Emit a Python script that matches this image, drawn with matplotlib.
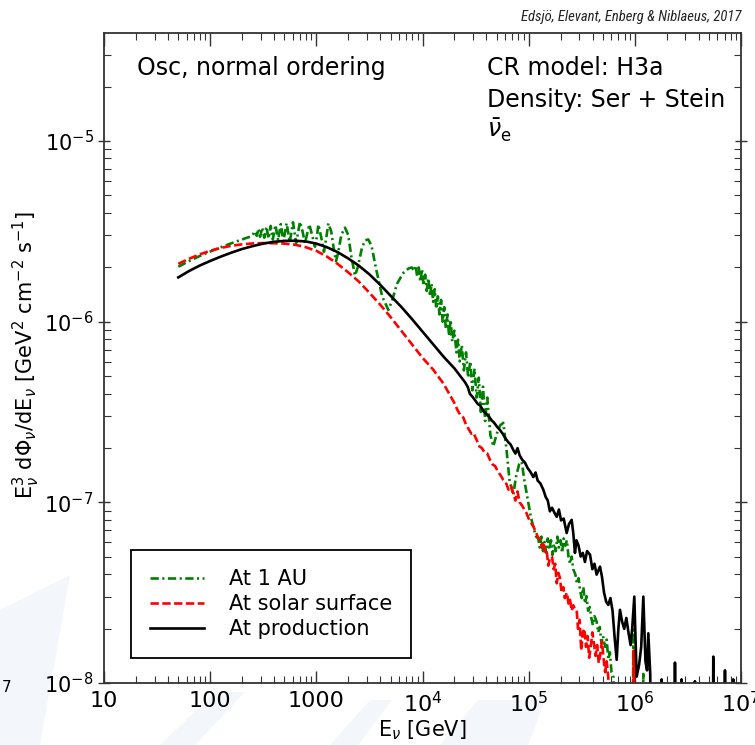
import numpy as np
import matplotlib
matplotlib.use("Agg")
import matplotlib.pyplot as plt
from matplotlib import font_manager
from matplotlib.ticker import FixedLocator, LogLocator, NullFormatter
from matplotlib.patches import Polygon

# ---------------------------------------------------------------------------
# Spectra: log10(E / GeV) and log10(E^3 dPhi/dE / [GeV^2 cm^-2 s^-1]).
# A value of -9 marks an empty bin (below the plotted range).
# ---------------------------------------------------------------------------

# At production (no oscillation / absorption effects)
logE_prod = [1.70, 1.80, 1.90, 2.00, 2.10, 2.20, 2.30, 2.40, 2.50, 2.60,
             2.70, 2.80, 2.90, 3.00, 3.10, 3.20, 3.30, 3.40, 3.50, 3.60,
             3.70, 3.80, 3.90, 4.00, 4.10, 4.20, 4.30, 4.40, 4.425, 4.447,
             4.47, 4.495, 4.52, 4.545, 4.573, 4.60, 4.625, 4.65, 4.675, 4.70,
             4.73, 4.755, 4.78, 4.805, 4.83, 4.855, 4.875, 4.895, 4.915, 4.94,
             4.965, 4.99, 5.015, 5.044, 5.065, 5.085, 5.11, 5.138, 5.16, 5.18,
             5.20, 5.22, 5.245, 5.264, 5.285, 5.305, 5.33, 5.358, 5.38, 5.405,
             5.42, 5.436, 5.45, 5.47, 5.49, 5.51, 5.53, 5.55, 5.578, 5.60,
             5.62, 5.64, 5.672, 5.69, 5.71, 5.73, 5.75, 5.77, 5.79, 5.81,
             5.829, 5.845, 5.86, 5.88, 5.90, 5.92, 5.94, 5.96, 5.975, 5.995,
             6.017, 6.04, 6.06, 6.08, 6.10, 6.115, 6.127, 6.145, 6.158, 6.24,
             6.253, 6.265, 6.37, 6.378, 6.39, 6.43, 6.44, 6.45, 6.555, 6.566,
             6.577, 6.73, 6.739, 6.75, 6.84, 6.849, 6.86, 6.92, 6.927, 6.935,
             7.0]
logflux_prod = [-5.755, -5.720, -5.690, -5.664, -5.640, -5.618, -5.598, -5.582, -5.568, -5.558,
                -5.553, -5.552, -5.556, -5.568, -5.588, -5.615, -5.650, -5.690, -5.738, -5.795,
                -5.857, -5.918, -5.985, -6.055, -6.125, -6.195, -6.258, -6.335, -6.36, -6.40,
                -6.415, -6.435, -6.455, -6.465, -6.495, -6.51, -6.525, -6.545, -6.56, -6.58,
                -6.60, -6.62, -6.645, -6.665, -6.68, -6.71, -6.73, -6.70, -6.74, -6.765,
                -6.78, -6.81, -6.83, -6.86, -6.835, -6.88, -6.895, -6.93, -6.97, -6.99,
                -7.05, -7.03, -7.06, -7.08, -7.04, -7.10, -7.09, -7.17, -7.12, -7.097,
                -7.17, -7.28, -7.21, -7.24, -7.30, -7.28, -7.33, -7.27, -7.29, -7.37,
                -7.34, -7.40, -7.356, -7.41, -7.50, -7.55, -7.568, -7.53, -7.60, -7.75,
                -7.872, -7.70, -7.595, -7.66, -7.70, -7.64, -7.72, -7.79, -7.70, -7.522,
                -7.965, -7.90, -7.80, -7.522, -7.88, -7.93, -7.725, -7.95, -9.0, -9.0,
                -7.98, -9.0, -9.0, -7.887, -9.0, -9.0, -7.98, -9.0, -9.0, -7.99,
                -9.0, -9.0, -7.854, -9.0, -9.0, -7.93, -9.0, -9.0, -7.98, -9.0,
                -9.0]

# At the solar surface
logE_surf = [1.70, 1.80, 1.90, 2.00, 2.10, 2.20, 2.30, 2.40, 2.50, 2.60,
             2.70, 2.80, 2.90, 3.00, 3.10, 3.20, 3.30, 3.40, 3.50, 3.60,
             3.70, 3.80, 3.90, 4.00, 4.10, 4.20, 4.30, 4.33, 4.36, 4.384,
             4.41, 4.44, 4.46, 4.48, 4.51, 4.535, 4.56, 4.585, 4.61, 4.636,
             4.66, 4.685, 4.71, 4.735, 4.761, 4.785, 4.81, 4.835, 4.855, 4.875,
             4.895, 4.915, 4.94, 4.96, 4.98, 5.00, 5.02, 5.044, 5.065, 5.085,
             5.107, 5.125, 5.14, 5.155, 5.17, 5.185, 5.20, 5.22, 5.235, 5.25,
             5.264, 5.28, 5.295, 5.31, 5.327, 5.34, 5.36, 5.375, 5.39, 5.405,
             5.42, 5.435, 5.452, 5.465, 5.48, 5.495, 5.51, 5.525, 5.54, 5.555,
             5.57, 5.585, 5.60, 5.615, 5.63, 5.645, 5.66, 5.675, 5.69, 5.705,
             5.72, 5.735, 5.75, 5.77, 5.975, 5.99, 6.005, 6.10]
logflux_surf = [-5.680, -5.652, -5.628, -5.608, -5.592, -5.580, -5.572, -5.567, -5.565, -5.566,
                -5.568, -5.574, -5.588, -5.608, -5.640, -5.680, -5.727, -5.778, -5.840, -5.905,
                -5.975, -6.050, -6.125, -6.200, -6.265, -6.345, -6.45, -6.49, -6.52, -6.53,
                -6.57, -6.60, -6.62, -6.615, -6.655, -6.69, -6.70, -6.725, -6.73, -6.765,
                -6.79, -6.80, -6.83, -6.85, -6.876, -6.89, -6.93, -6.91, -6.95, -6.99,
                -6.94, -7.00, -7.02, -7.04, -7.06, -7.09, -7.11, -7.134, -7.16, -7.19,
                -7.208, -7.25, -7.22, -7.28, -7.27, -7.35, -7.31, -7.30, -7.37, -7.34,
                -7.448, -7.39, -7.42, -7.50, -7.47, -7.53, -7.50, -7.56, -7.54, -7.60,
                -7.57, -7.59, -7.595, -7.70, -7.65, -7.82, -7.72, -7.70, -7.80, -7.74,
                -7.86, -7.80, -7.72, -7.78, -7.85, -7.79, -7.89, -7.84, -7.77, -7.86,
                -7.94, -7.88, -7.97, -9.0, -9.0, -7.82, -9.0, -9.0]

# At 1 AU
logE_1au = [1.70, 1.80, 1.90, 2.00, 2.10, 2.20, 2.30, 2.375, 2.40, 2.42,
            2.44, 2.455, 2.47, 2.49, 2.51, 2.53, 2.55, 2.57, 2.59, 2.615,
            2.64, 2.665, 2.69, 2.72, 2.75, 2.78, 2.81, 2.846, 2.87, 2.893,
            2.915, 2.934, 2.96, 2.987, 3.005, 3.019, 3.045, 3.072, 3.093, 3.113,
            3.14, 3.165, 3.185, 3.205, 3.235, 3.27, 3.30, 3.33, 3.364, 3.39,
            3.43, 3.46, 3.489, 3.52, 3.56, 3.62, 3.678, 3.71, 3.76, 3.82,
            3.87, 3.90, 3.92, 3.935, 3.95, 3.965, 3.98, 3.995, 4.01, 4.025,
            4.04, 4.055, 4.07, 4.085, 4.10, 4.115, 4.13, 4.145, 4.16, 4.175,
            4.19, 4.205, 4.22, 4.235, 4.25, 4.265, 4.28, 4.30, 4.32, 4.335,
            4.35, 4.37, 4.39, 4.41, 4.43, 4.45, 4.47, 4.49, 4.51, 4.53,
            4.55, 4.57, 4.59, 4.61, 4.64, 4.667, 4.70, 4.73, 4.761, 4.79,
            4.82, 4.855, 4.88, 4.91, 4.934, 4.96, 4.99, 5.02, 5.05, 5.07,
            5.09, 5.105, 5.12, 5.135, 5.15, 5.165, 5.18, 5.195, 5.21, 5.225,
            5.24, 5.255, 5.27, 5.285, 5.30, 5.315, 5.33, 5.345, 5.36, 5.375,
            5.39, 5.405, 5.42, 5.44, 5.455, 5.47, 5.485, 5.50, 5.515, 5.53,
            5.545, 5.56, 5.575, 5.59, 5.605, 5.62, 5.64, 5.655, 5.67, 5.685,
            5.70, 5.72, 5.735, 5.75, 5.765, 5.78, 5.80, 5.82, 5.975, 5.986,
            5.998, 6.07, 6.08, 6.09, 6.73, 6.74, 6.75, 7.0]
logflux_1au = [-5.696, -5.665, -5.637, -5.612, -5.588, -5.566, -5.545, -5.530, -5.52, -5.50,
               -5.525, -5.485, -5.53, -5.48, -5.535, -5.475, -5.54, -5.47, -5.545, -5.465,
               -5.55, -5.46, -5.555, -5.455, -5.56, -5.45, -5.565, -5.447, -5.50, -5.566,
               -5.51, -5.462, -5.52, -5.585, -5.53, -5.462, -5.53, -5.613, -5.54, -5.456,
               -5.50, -5.60, -5.665, -5.62, -5.52, -5.480, -5.52, -5.64, -5.745, -5.70,
               -5.59, -5.55, -5.545, -5.58, -5.70, -5.86, -5.935, -5.89, -5.79, -5.73,
               -5.705, -5.70, -5.72, -5.69, -5.75, -5.70, -5.78, -5.71, -5.80, -5.74,
               -5.83, -5.76, -5.86, -5.79, -5.89, -5.82, -5.93, -5.86, -5.96, -5.88,
               -6.00, -5.92, -6.04, -5.96, -6.08, -5.99, -6.11, -6.05, -6.17, -6.10,
               -6.22, -6.13, -6.27, -6.17, -6.31, -6.22, -6.38, -6.26, -6.42, -6.31,
               -6.50, -6.36, -6.55, -6.42, -6.63, -6.69, -6.62, -6.575, -6.56, -6.70,
               -6.88, -6.96, -6.86, -6.79, -6.775, -6.88, -6.98, -7.08, -7.15, -7.19,
               -7.20, -7.25, -7.19, -7.27, -7.22, -7.28, -7.20, -7.26, -7.21, -7.29,
               -7.23, -7.27, -7.19, -7.25, -7.21, -7.28, -7.20, -7.24, -7.21, -7.30,
               -7.34, -7.30, -7.37, -7.40, -7.45, -7.42, -7.49, -7.53, -7.47, -7.56,
               -7.52, -7.60, -7.58, -7.64, -7.68, -7.63, -7.66, -7.72, -7.69, -7.78,
               -7.74, -7.80, -7.76, -7.87, -7.83, -7.94, -7.97, -9.0, -9.0, -7.706,
               -9.0, -9.0, -7.95, -9.0, -9.0, -7.95, -9.0, -9.0]

series_labels = ["At 1 AU", "At solar surface", "At production"]
series_colors = ["#008000", "#ff0000", "#000000"]

x_tick_values = [1e1, 1e2, 1e3, 1e4, 1e5, 1e6, 1e7]
x_tick_labels = ["10", "100", "1000", r"$10^4$", r"$10^5$", r"$10^6$", r"$10^7$"]
y_tick_values = [1e-8, 1e-7, 1e-6, 1e-5]
y_tick_labels = [r"$10^{-8}$", r"$10^{-7}$", r"$10^{-6}$", r"$10^{-5}$"]


def available(name):
    try:
        font_manager.findfont(font_manager.FontProperties(family=name),
                              fallback_to_default=False)
        return True
    except Exception:
        return False


narrow_font = "DejaVu Sans"
for cand in ("Liberation Sans Narrow", "Roboto Condensed", "DejaVu Sans Condensed",
             "Liberation Sans"):
    if available(cand):
        narrow_font = cand
        break

plt.rcParams["font.family"] = ["DejaVu Sans"]
plt.rcParams["mathtext.fontset"] = "dejavusans"
plt.rcParams["lines.scale_dashes"] = False

fig = plt.figure(figsize=(7.55, 7.45), dpi=100)

# faint background logo strokes
wm = "#f3f6fb"
for pts in ([(0, 745), (0, 610), (70, 575), (40, 745)],
            [(160, 745), (215, 692), (245, 692), (195, 745)],
            [(330, 745), (370, 700), (392, 700), (358, 745)],
            [(440, 745), (478, 700), (545, 700), (528, 745)]):
    fig.patches.append(Polygon([(x / 755, 1 - y / 745) for x, y in pts], closed=True,
                               transform=fig.transFigure, facecolor=wm,
                               edgecolor="none", zorder=-10))

ax = fig.add_axes([104 / 755, 1 - 683 / 745, 637 / 755, 650 / 745])
ax.set_facecolor("none")
ax.set_xscale("log")
ax.set_yscale("log")

styles = [(0, (6, 2.5, 1.5, 2.5)), (0, (6, 2.5)), "-"]
data = [(logE_1au, logflux_1au), (logE_surf, logflux_surf), (logE_prod, logflux_prod)]
for (le, lf), lab, col, st in zip(data, series_labels, series_colors, styles):
    ax.plot(10.0 ** np.array(le), 10.0 ** np.array(lf), color=col, lw=1.9,
            label=lab, linestyle=st)

ax.set_xlim(1e1, 1e7)
ax.set_ylim(1e-8, 3.96e-5)

ax.xaxis.set_major_locator(FixedLocator(x_tick_values))
ax.set_xticklabels(x_tick_labels)
ax.yaxis.set_major_locator(FixedLocator(y_tick_values))
ax.set_yticklabels(y_tick_labels)
ax.xaxis.set_minor_locator(LogLocator(base=10, subs=np.arange(2, 10), numticks=20))
ax.yaxis.set_minor_locator(LogLocator(base=10, subs=np.arange(2, 10), numticks=20))
ax.xaxis.set_minor_formatter(NullFormatter())
ax.yaxis.set_minor_formatter(NullFormatter())

ax.tick_params(axis="both", which="both", direction="in", top=True, right=True,
               color="#333333", labelsize=16)
ax.tick_params(axis="x", which="major", length=9, width=1.0, pad=6)
ax.tick_params(axis="y", which="major", length=9, width=1.0, pad=3, direction="inout",
               labelsize=15)
ax.tick_params(axis="both", which="minor", length=5, width=0.8)
for sp in ax.spines.values():
    sp.set_linewidth(1.3)
    sp.set_color("#333333")

ax.set_xlabel(r"E$_\nu$ [GeV]", fontsize=15)
ax.xaxis.set_label_coords(0.5, -35 / 650)
ax.set_ylabel(r"E$_\nu^3$ d$\Phi_\nu$/dE$_\nu$ [GeV$^2$ cm$^{-2}$ s$^{-1}$]",
              fontsize=15)
ax.yaxis.set_label_coords(-62 / 637, 0.505)

ax.text(33 / 637, 1 - 35 / 650, "Osc, normal ordering", transform=ax.transAxes,
        fontsize=17, va="center", ha="left")
ax.text(383 / 637, 1 - 35 / 650, "CR model: H3a", transform=ax.transAxes,
        fontsize=17, va="center", ha="left")
ax.text(383 / 637, 1 - 67 / 650, "Density: Ser + Stein", transform=ax.transAxes,
        fontsize=17, va="center", ha="left")
ax.text(383 / 637, 1 - 97 / 650, r"$\bar{\nu}_\mathrm{e}$", transform=ax.transAxes,
        fontsize=17, va="center", ha="left")

fig.text(741 / 755, 1 - 17 / 745, "Edsjö, Elevant, Enberg & Niblaeus, 2017",
         family=narrow_font, style="italic", fontsize=10.5, ha="right", va="center",
         color="#222222")
fig.text(0.002, 1 - 688 / 745, "7", fontsize=11, ha="left", va="center")

leg = ax.legend(loc="lower left", bbox_to_anchor=(27 / 637, 25 / 650), fontsize=15,
                frameon=True, fancybox=False, framealpha=1, edgecolor="black",
                handlelength=2.6, handletextpad=1.2, labelspacing=0.25,
                borderpad=0.9, borderaxespad=0)
leg.get_frame().set_linewidth(1.3)

fig.savefig("out.png", dpi=100)
